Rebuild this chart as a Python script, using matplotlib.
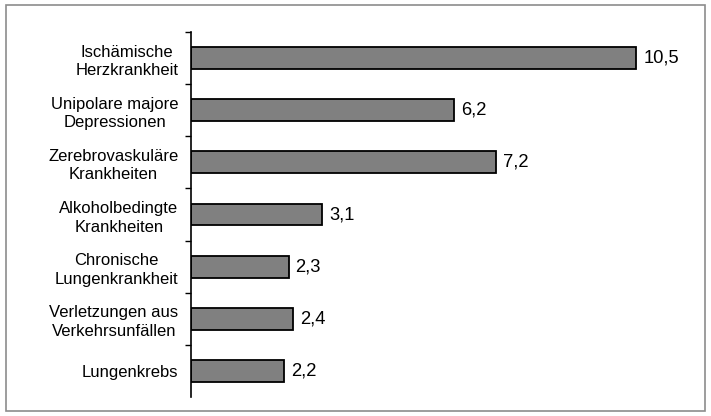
import matplotlib
matplotlib.use("Agg")
import matplotlib.pyplot as plt
from matplotlib.patches import Rectangle

categories = ["Ischämische\nHerzkrankheit", "Unipolare majore\nDepressionen",
              "Zerebrovaskuläre\nKrankheiten", "Alkoholbedingte\nKrankheiten",
              "Chronische\nLungenkrankheit", "Verletzungen aus\nVerkehrsunfällen",
              "Lungenkrebs"]
values = [10.5, 6.2, 7.2, 3.1, 2.3, 2.4, 2.2]
value_labels = ["10,5", "6,2", "7,2", "3,1", "2,3", "2,4", "2,2"]

plt.rcParams['font.family'] = ['Liberation Sans', 'DejaVu Sans']

fig = plt.figure(figsize=(7.11, 4.16), dpi=100)
ax = fig.add_axes([191/711, 1-397/416, 12*42.4/711, (397-32)/416])

pos = list(range(len(categories)))
ax.barh(pos, values, height=0.42, color="#808080", edgecolor="black", linewidth=1.3)
ax.set_ylim(len(categories)-0.5, -0.5)
ax.set_xlim(0, 12)

for p, v, t in zip(pos, values, value_labels):
    ax.annotate(t, (v, p), xytext=(5, 0), textcoords="offset points",
                va="center", ha="left", fontsize=13.2)

ax.set_yticks(pos)
ax.set_yticklabels(categories, fontsize=12, multialignment="center", linespacing=1.3)
ax.set_yticks([p - 0.5 for p in pos], minor=True)
ax.tick_params(axis="y", which="major", length=0, pad=9)
ax.tick_params(axis="y", which="minor", length=4, width=1, direction="out")
ax.set_xticks([])
for s in ["top", "right", "bottom"]:
    ax.spines[s].set_visible(False)
ax.spines["left"].set_linewidth(1.2)

fig.patches.append(Rectangle((6/711, 1-411/416), (705-6)/711, (411-5)/416,
                             transform=fig.transFigure, fill=False,
                             edgecolor="#8c8c8c", linewidth=1.2))

fig.savefig("out.png", dpi=100)
